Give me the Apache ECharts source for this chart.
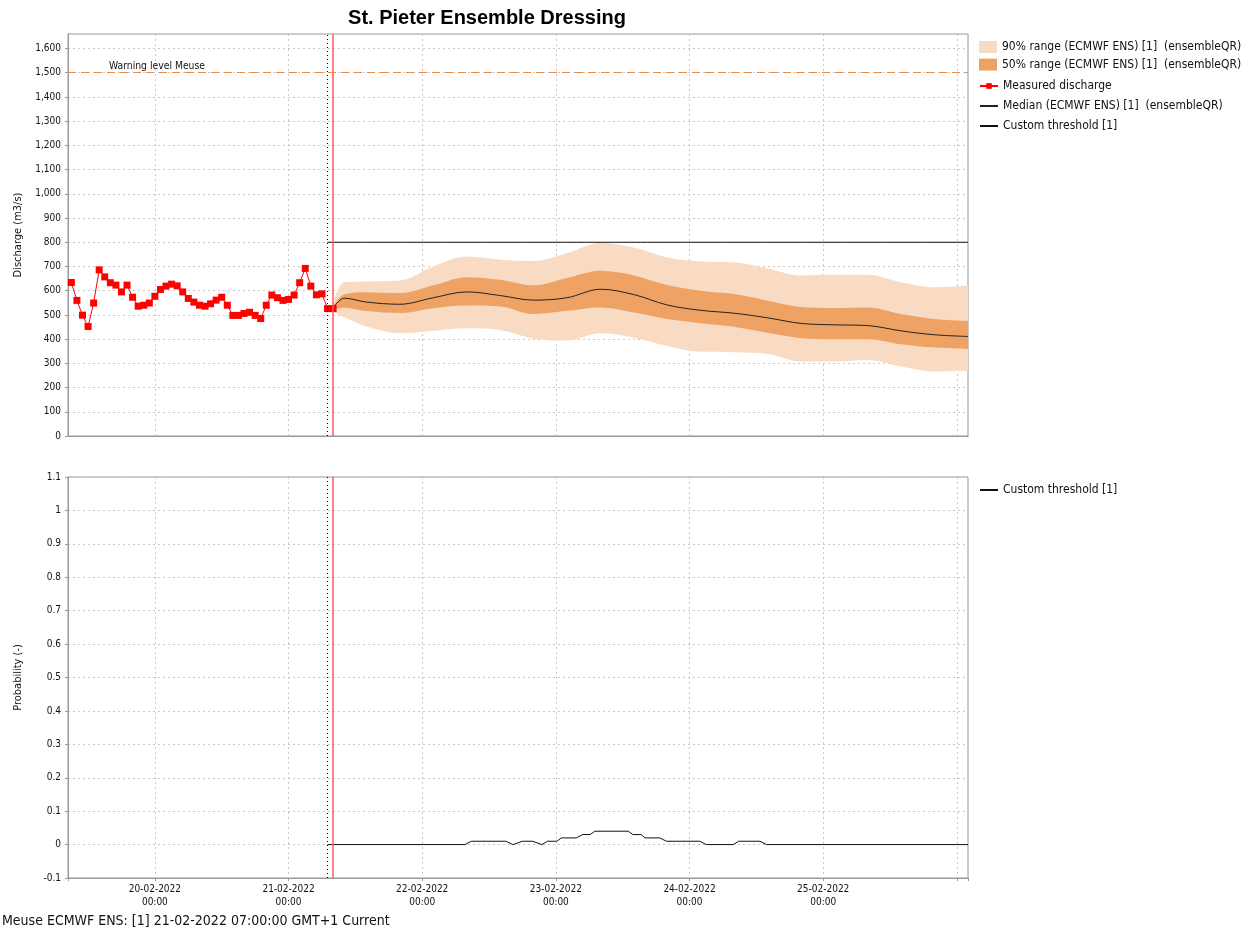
<!DOCTYPE html>
<html><head><meta charset="utf-8">
<script src="https://cdn.jsdelivr.net/npm/echarts@6/dist/echarts.min.js"></script>
<style>html,body{margin:0;padding:0;background:#fff}#c{width:1258px;height:933px}</style>
</head><body><div id="c"></div>
<script>
// ---------- DATA ----------
const measuredStart = '2022-02-19 09:00'; // hourly observations
const measuredValues = [634,560,499,452,549,686,657,633,623,595,623,573,536,540,549,577,605,619,627,620,595,568,553,540,536,546,561,573,540,498,498,506,511,498,485,540,582,571,560,564,582,633,692,619,583,587,526,526];

const forecastTimes = ['2022-02-21 08:00','2022-02-21 10:00','2022-02-21 14:00','2022-02-21 20:00','2022-02-22 02:00','2022-02-22 08:00','2022-02-22 14:00','2022-02-22 20:00','2022-02-23 02:00','2022-02-23 08:00','2022-02-23 14:00','2022-02-23 20:00','2022-02-24 02:00','2022-02-24 08:00','2022-02-24 14:00','2022-02-24 20:00','2022-02-25 02:00','2022-02-25 08:00','2022-02-25 14:00','2022-02-25 20:00','2022-02-26 02:00'];
const p95    = [545,635,638,642,700,741,728,723,755,797,778,737,721,717,692,663,666,666,635,614,620];
const p75    = [535,585,594,590,622,656,645,622,652,682,663,624,600,586,559,533,529,531,504,483,475];
const median = [528,569,553,544,571,595,580,561,571,606,584,541,519,507,488,465,459,456,434,418,411];
const p25    = [522,530,516,508,528,539,535,504,517,531,510,483,466,451,426,404,400,400,379,365,359];
const p05    = [515,490,452,424,435,445,438,402,394,424,406,372,348,346,339,308,308,314,287,266,269];

const thresholdTimes = ['2022-02-21 07:00','2022-02-26 02:00'];
const thresholdValues = [800, 800];
const warningLevel = 1500;

const probTimes = ['2022-02-21 07:00','2022-02-22 07:40','2022-02-22 08:50','2022-02-22 15:00','2022-02-22 16:20','2022-02-22 18:00','2022-02-22 19:50','2022-02-22 21:30','2022-02-22 22:30','2022-02-23 00:10','2022-02-23 01:00','2022-02-23 03:40','2022-02-23 04:50','2022-02-23 06:10','2022-02-23 07:00','2022-02-23 13:00','2022-02-23 13:50','2022-02-23 15:20','2022-02-23 16:00','2022-02-23 18:40','2022-02-23 19:50','2022-02-24 01:50','2022-02-24 03:00','2022-02-24 07:50','2022-02-24 08:50','2022-02-24 12:40','2022-02-24 13:50','2022-02-26 02:00'];
const probValues = [0,0,0.01,0.01,0,0.01,0.01,0,0.01,0.01,0.02,0.02,0.03,0.03,0.04,0.04,0.03,0.03,0.02,0.02,0.01,0.01,0,0,0.01,0.01,0,0];

const forecastT0 = '2022-02-21 07:00';
const currentTime = '2022-02-21 08:00';
const axisStart = '2022-02-19 08:24';
const axisEnd = '2022-02-26 02:00';

const NAME90 = '90% range (ECMWF ENS) [1]  (ensembleQR)';
const NAME50 = '50% range (ECMWF ENS) [1]  (ensembleQR)';
const NAMEMEAS = 'Measured discharge';
const NAMEMED = 'Median (ECMWF ENS) [1]  (ensembleQR)';
const NAMETHR = 'Custom threshold [1]';

// ---------- HELPERS ----------
const P = s => { const [d, tm] = s.split(' '); const [Y, M, D] = d.split('-').map(Number); const [h, m] = tm.split(':').map(Number); return Date.UTC(Y, M - 1, D, h, m); };
const pad = n => (n < 10 ? '0' : '') + n;
const xMin = P(axisStart), xMax = P(axisEnd);
const FONT = "'DejaVu Sans Condensed','DejaVu Sans',sans-serif";
const GRIDC = '#c8c8c8', AXC = '#999', TXT = '#111';
const SMOOTH = 0.35;

const mStart = P(measuredStart);
const measured = measuredValues.map((v, i) => [mStart + i * 3600e3, v]);
const ft = forecastTimes.map(P);
const pair = arr => arr.map((v, i) => [ft[i], v]);
const diff = (a, b) => a.map((v, i) => [ft[i], v - b[i]]);

function xAx(gi, showLabels) {
  return {
    type: 'time', gridIndex: gi, min: xMin, max: xMax, splitNumber: 7,
    axisLine: { show: true, onZero: false, lineStyle: { color: AXC } },
    axisTick: { show: showLabels, length: 3, lineStyle: { color: AXC } },
    axisLabel: {
      show: showLabels, color: TXT, fontFamily: FONT, fontSize: 10, lineHeight: 13, margin: 5,
      hideOverlap: false, showMinLabel: true, showMaxLabel: true,
      formatter: v => {
        const d = new Date(v);
        if (d.getUTCHours() || d.getUTCMinutes() || v > xMax - 12 * 3600e3 || v < xMin + 3600e3) return '';
        return pad(d.getUTCDate()) + '-' + pad(d.getUTCMonth() + 1) + '-' + d.getUTCFullYear() + '\n00:00';
      }
    },
    splitLine: { show: true, lineStyle: { color: GRIDC, type: [2, 3], width: 1 } }
  };
}
function yAx(gi, opts) {
  return Object.assign({
    type: 'value', gridIndex: gi, nameLocation: 'middle', nameGap: 44,
    nameTextStyle: { fontFamily: FONT, fontSize: 11, color: TXT },
    axisLine: { show: true, lineStyle: { color: AXC } },
    axisTick: { show: true, length: 3, lineStyle: { color: AXC } },
    splitLine: { show: true, lineStyle: { color: GRIDC, type: [2, 3], width: 1 } }
  }, opts);
}

const vLines = [
  { xAxis: P(forecastT0), lineStyle: { color: '#000', type: [1, 3], width: 1 } },
  { xAxis: P(currentTime), lineStyle: { color: '#ff5a5a', type: 'solid', width: 1.5 } }
];
const legendText = { fontFamily: FONT, fontSize: 12, color: TXT, lineHeight: 12 };

const option = {
  useUTC: true,
  animation: false,
  backgroundColor: '#fff',
  title: [
    { text: 'St. Pieter Ensemble Dressing', left: 487, textAlign: 'center', top: 8, padding: 0,
      textStyle: { fontFamily: "'Liberation Sans',Arial,sans-serif", fontWeight: 'bold', fontSize: 20, color: '#000' } },
    { text: 'Meuse ECMWF ENS: [1] 21-02-2022 07:00:00 GMT+1 Current', left: 2, top: 914, padding: 0,
      textStyle: { fontFamily: FONT, fontWeight: 'normal', fontSize: 14, color: TXT } }
  ],
  grid: [
    { left: 68, top: 34, width: 900, height: 402, show: true, borderColor: AXC, borderWidth: 1, backgroundColor: '#fff' },
    { left: 68, top: 477, width: 900, height: 401, show: true, borderColor: AXC, borderWidth: 1, backgroundColor: '#fff' }
  ],
  xAxis: [xAx(0, false), xAx(1, true)],
  yAxis: [
    yAx(0, { min: 0, max: 1660, interval: 100, name: 'Discharge (m3/s)',
      axisLabel: { showMaxLabel: false, color: TXT, fontFamily: FONT, fontSize: 10, margin: 7,
        formatter: v => Math.round(v).toLocaleString('en-US') } }),
    yAx(1, { min: -0.1, max: 1.1, interval: 0.1, name: 'Probability (-)',
      axisLabel: { color: TXT, fontFamily: FONT, fontSize: 10, margin: 7,
        formatter: v => String(+v.toFixed(1)) } })
  ],
  legend: [
    { orient: 'vertical', left: 979, top: 41, padding: 0, itemWidth: 18, itemHeight: 12, itemGap: 5.6,
      textStyle: legendText, selectedMode: false,
      data: [{ name: NAME90, icon: 'rect' }, { name: NAME50, icon: 'rect' }] },
    { orient: 'vertical', left: 979, top: 80, padding: 0, itemWidth: 18, itemHeight: 7, itemGap: 8,
      textStyle: legendText, selectedMode: false,
      data: [NAMEMEAS, { name: NAMEMED, itemStyle: { opacity: 0 } }, { name: NAMETHR, itemStyle: { opacity: 0 } }] },
    { orient: 'vertical', left: 979, top: 484, padding: 0, itemWidth: 18, itemHeight: 7,
      textStyle: legendText, selectedMode: false,
      data: [{ name: NAMETHR, itemStyle: { opacity: 0 } }] }
  ],
  series: [
    { type: 'line', name: 'p05', stack: 'r90', data: pair(p05), symbol: 'none', silent: true, smooth: SMOOTH,
      lineStyle: { width: 0, opacity: 0 } },
    { type: 'line', name: NAME90, stack: 'r90', data: diff(p95, p05), symbol: 'none', silent: true, smooth: SMOOTH,
      lineStyle: { width: 0, opacity: 0 }, itemStyle: { color: '#f9dbc3' },
      areaStyle: { color: '#f9dbc3', opacity: 1 } },
    { type: 'line', name: 'p25', stack: 'r50', data: pair(p25), symbol: 'none', silent: true, smooth: SMOOTH,
      lineStyle: { width: 0, opacity: 0 } },
    { type: 'line', name: NAME50, stack: 'r50', data: diff(p75, p25), symbol: 'none', silent: true, smooth: SMOOTH,
      lineStyle: { width: 0, opacity: 0 }, itemStyle: { color: '#eea365' },
      areaStyle: { color: '#eea365', opacity: 1 } },
    { type: 'line', name: NAMEMEAS, data: measured, symbol: 'rect', symbolSize: 7,
      itemStyle: { color: '#ff0000' }, lineStyle: { color: '#ff0000', width: 1 },
      markLine: { silent: true, symbol: 'none',
        data: [
          ...vLines,
          { yAxis: warningLevel, lineStyle: { color: '#ee8844', type: [8, 5], width: 1 },
            label: { show: true, formatter: 'Warning level Meuse', position: 'insideStartTop', distance: [41, 1],
              fontFamily: FONT, fontSize: 10.3, color: TXT } }
        ],
        label: { show: false } } },
    { type: 'line', name: NAMEMED, data: pair(median), symbol: 'none', smooth: SMOOTH,
      itemStyle: { color: '#222' }, lineStyle: { color: '#222', width: 1 } },
    { type: 'line', name: NAMETHR, data: thresholdTimes.map((t, i) => [P(t), thresholdValues[i]]), symbol: 'none',
      itemStyle: { color: '#111' }, lineStyle: { color: '#111', width: 1 } },
    { type: 'line', name: NAMETHR, xAxisIndex: 1, yAxisIndex: 1,
      data: probTimes.map((t, i) => [P(t), probValues[i]]), symbol: 'none',
      itemStyle: { color: '#111' }, lineStyle: { color: '#111', width: 1 },
      markLine: { silent: true, symbol: 'none', label: { show: false }, data: vLines } }
  ]
};
const chart = echarts.init(document.getElementById('c'), null, { renderer: 'canvas' });
chart.setOption(option);
</script>
</body></html>
